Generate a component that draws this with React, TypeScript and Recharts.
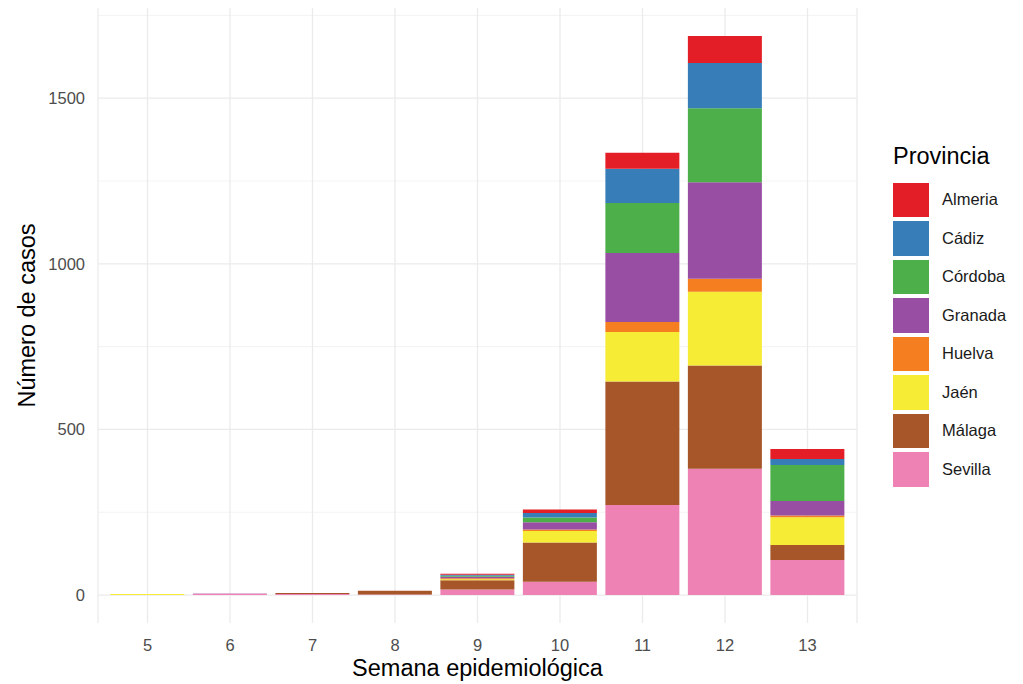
import { Bar, BarChart, CartesianGrid, XAxis, YAxis, Legend } from "recharts"

const weeks = ["5", "6", "7", "8", "9", "10", "11", "12", "13"]

// casos por provincia y semana
const sevilla = [0, 4, 3, 2, 17, 40, 272, 381, 106]
const malaga = [0, 0, 3, 11, 28, 119, 373, 312, 45]
const jaen = [3, 0, 0, 0, 3, 34, 149, 223, 84]
const huelva = [0, 0, 0, 0, 3, 5, 30, 39, 5]
const granada = [0, 1, 0, 0, 4, 22, 209, 291, 44]
const cordoba = [0, 0, 0, 0, 3, 14, 151, 224, 109]
const cadiz = [0, 0, 0, 0, 3, 14, 103, 136, 18]
const almeria = [0, 0, 0, 0, 3, 10, 48, 82, 30]

const yTicks = [0, 500, 1000, 1500]
const yMinor = [250, 750, 1250, 1750]

// orden de apilado: de abajo a arriba
const provinces = [
  { key: "Sevilla", values: sevilla, color: "#EE82B5" },
  { key: "Málaga", values: malaga, color: "#A65628" },
  { key: "Jaén", values: jaen, color: "#F6EC35" },
  { key: "Huelva", values: huelva, color: "#F57F20" },
  { key: "Granada", values: granada, color: "#984EA3" },
  { key: "Córdoba", values: cordoba, color: "#4DAF4A" },
  { key: "Cádiz", values: cadiz, color: "#377EB8" },
  { key: "Almeria", values: almeria, color: "#E31E26" },
]

const data = weeks.map((week, i) => {
  const row: Record<string, string | number> = { week }
  provinces.forEach((p) => {
    row[p.key] = p.values[i]
  })
  return row
})

const totals = weeks.map((_, i) => provinces.reduce((s, p) => s + p.values[i], 0))
const maxTotal = Math.max(...totals)
const pad = maxTotal * 0.05

const font = '"Liberation Sans", Arial, sans-serif'

function ProvinceLegend() {
  const items = [...provinces].reverse()
  return (
    <div style={{ fontFamily: font }}>
      <div style={{ fontSize: 23.5, lineHeight: 1, color: "#000", marginBottom: 12 }}>Provincia</div>
      {items.map((p) => (
        <div key={p.key} style={{ display: "flex", alignItems: "center", height: 38.5 }}>
          <div style={{ width: 36, height: 34.5, background: p.color }} />
          <span style={{ marginLeft: 13, fontSize: 16.5, color: "#1A1A1A" }}>{p.key}</span>
        </div>
      ))}
    </div>
  )
}

export default function App() {
  return (
    <div style={{ position: "absolute", left: 0, top: 0, fontFamily: font }}>
      <BarChart
        width={1023}
        height={684}
        data={data}
        margin={{ top: 8, right: 36, left: 0, bottom: 0 }}
        barCategoryGap="5%"
      >
        <CartesianGrid horizontalValues={yMinor} vertical={false} stroke="#F2F2F2" strokeWidth={0.9} />
        <CartesianGrid horizontalValues={yTicks} stroke="#EBEBEB" strokeWidth={1.3} />
        <XAxis
          dataKey="week"
          height={61}
          padding={{ left: 8.25, right: 8.25 }}
          axisLine={false}
          tickLine={false}
          tickSize={0}
          tickMargin={16}
          tick={{ fill: "#4D4D4D", fontSize: 16.5, fontFamily: font }}
          label={{
            value: "Semana epidemiológica",
            position: "insideBottom",
            offset: 8,
            style: { fill: "#000", fontSize: 23.5, fontFamily: font },
          }}
        />
        <YAxis
          type="number"
          width={98}
          domain={[-pad, maxTotal + pad]}
          ticks={yTicks}
          allowDataOverflow
          axisLine={false}
          tickLine={false}
          tickSize={0}
          tickMargin={13}
          tick={{ fill: "#4D4D4D", fontSize: 16.5, fontFamily: font }}
          label={{
            value: "Número de casos",
            angle: -90,
            position: "insideLeft",
            offset: 27,
            style: { fill: "#000", fontSize: 23.5, fontFamily: font, textAnchor: "middle" },
          }}
        />
        <Legend
          layout="vertical"
          verticalAlign="top"
          align="right"
          content={() => <ProvinceLegend />}
          wrapperStyle={{ left: 893, top: 145, width: 130 }}
        />
        {provinces.map((p) => (
          <Bar key={p.key} dataKey={p.key} stackId="a" fill={p.color} isAnimationActive={false} />
        ))}
      </BarChart>
    </div>
  )
}
